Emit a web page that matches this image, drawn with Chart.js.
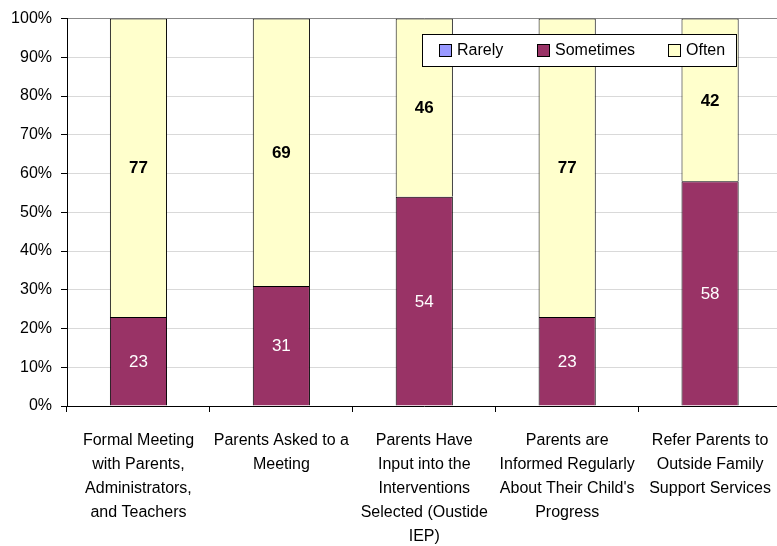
<!DOCTYPE html>
<html>
<head>
<meta charset="utf-8">
<script src="https://cdn.jsdelivr.net/npm/chart.js@4.4.1/dist/chart.umd.min.js"></script>
<style>
  html, body { margin: 0; padding: 0; background: #fff; }
  #wrap { width: 777px; height: 546px; overflow: hidden; }
</style>
</head>
<body>
<div id="wrap"><canvas id="myBarChart" width="788" height="546"></canvas></div>
<script>
const categories = [
  ['Formal Meeting', 'with Parents,', 'Administrators,', 'and Teachers'],
  ['Parents Asked to a', 'Meeting'],
  ['Parents Have', 'Input into the', 'Interventions', 'Selected (Oustide', 'IEP)'],
  ['Parents are', 'Informed Regularly', "About Their Child's", 'Progress'],
  ['Refer Parents to', 'Outside Family', 'Support Services']
];
const rarely = [0, 0, 0, 0, 0];
const sometimes = [23, 31, 54, 23, 58];
const often = [77, 69, 46, 77, 42];
const yTicks = [0, 10, 20, 30, 40, 50, 60, 70, 80, 90, 100];

const FONT = "'Liberation Sans Narrow', 'Arial Narrow', 'Liberation Sans', Arial, sans-serif";

// Value labels drawn in the middle of each segment
const segmentLabelPlugin = {
  id: 'segmentLabelPlugin',
  afterDatasetsDraw: function(chart) {
    const ctx = chart.ctx;
    ctx.save();
    ctx.textAlign = 'center';
    ctx.textBaseline = 'middle';
    chart.data.datasets.forEach(function(ds, i) {
      const meta = chart.getDatasetMeta(i);
      meta.data.forEach(function(bar, j) {
        const v = ds.data[j];
        if (!v) return;
        const mid = (bar.y + bar.base) / 2;
        if (ds.label === 'Often') {
          ctx.fillStyle = '#000';
          ctx.font = 'bold 17px ' + FONT;
        } else {
          ctx.fillStyle = '#fff';
          ctx.font = '17px ' + FONT;
        }
        ctx.fillText(String(v), bar.x, mid + 1);
      });
    });
    ctx.restore();
  }
};

// Boxed legend sitting inside the plot area
const boxLegendPlugin = {
  id: 'boxLegendPlugin',
  afterDraw: function(chart) {
    const ctx = chart.ctx;
    const area = chart.chartArea;
    const left = Math.round(area.left) + 355, top = Math.round(area.top) + 15, w = 314, h = 32;
    ctx.save();
    ctx.fillStyle = '#fff';
    ctx.fillRect(left, top, w, h);
    ctx.strokeStyle = '#000';
    ctx.lineWidth = 1;
    ctx.strokeRect(left + 0.5, top + 0.5, w, h);
    const offsets = [17, 115, 246];
    ctx.font = '16px ' + FONT;
    ctx.textBaseline = 'middle';
    ctx.textAlign = 'left';
    chart.data.datasets.forEach(function(ds, i) {
      const x = left + offsets[i];
      const sy = top + 10;
      ctx.fillStyle = ds.backgroundColor;
      ctx.fillRect(x, sy, 13, 13);
      ctx.strokeStyle = '#000';
      ctx.strokeRect(x + 0.5, sy + 0.5, 12, 12);
      ctx.fillStyle = '#000';
      ctx.fillText(ds.label, x + 18, sy + 7);
    });
    ctx.restore();
  }
};

const ctx = document.getElementById('myBarChart').getContext('2d');
const myBarChart = new Chart(ctx, {
  type: 'bar',
  data: {
    labels: categories,
    datasets: [
      { label: 'Rarely', data: rarely, backgroundColor: '#9999FF', borderColor: '#000', borderWidth: 1 },
      { label: 'Sometimes', data: sometimes, backgroundColor: '#993366', borderColor: '#000', borderWidth: 1 },
      { label: 'Often', data: often, backgroundColor: '#FFFFCC', borderColor: '#000', borderWidth: 1 }
    ]
  },
  options: {
    responsive: false,
    animation: false,
    layout: { padding: { top: 17, right: 0, left: 0, bottom: 0 } },
    datasets: {
      bar: { barPercentage: 0.4, categoryPercentage: 1.0 }
    },
    plugins: {
      legend: { display: false },
      tooltip: { enabled: false }
    },
    scales: {
      x: {
        stacked: true,
        offset: true,
        grid: {
          offset: true,
          drawOnChartArea: false,
          color: '#000',
          tickLength: 6
        },
        border: { color: '#000', width: 1 },
        ticks: {
          color: '#000',
          maxRotation: 0,
          autoSkip: false,
          padding: 17,
          font: { family: FONT, size: 16, lineHeight: '24px' }
        },
        afterFit: function(scale) { scale.height = 140; }
      },
      y: {
        stacked: true,
        min: 0,
        max: 100,
        afterBuildTicks: function(scale) {
          scale.ticks = yTicks.map(function(v) { return { value: v }; });
        },
        grid: {
          color: function(c) { return c.tick && c.tick.value === 100 ? '#888' : '#d9d9d9'; },
          tickColor: '#000',
          tickLength: 6
        },
        border: { color: '#000', width: 1 },
        ticks: {
          color: '#000',
          padding: 9,
          font: { family: FONT, size: 16 },
          callback: function(v) { return v + '%'; }
        },
        afterFit: function(scale) { scale.width = 67; }
      }
    }
  },
  plugins: [segmentLabelPlugin, boxLegendPlugin]
});
</script>
</body>
</html>
